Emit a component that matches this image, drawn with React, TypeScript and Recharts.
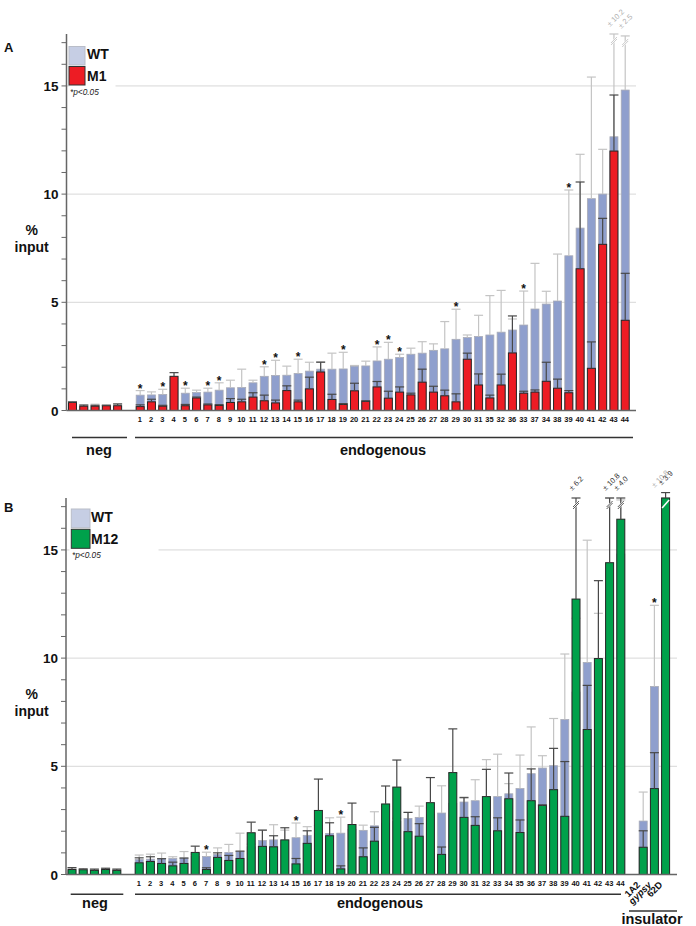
import { BarChart, Bar, XAxis, YAxis, CartesianGrid } from "recharts";

// y range shared by both panels (% input)
const TOP = 17.4;
const PLOT_H = 376.5;
const K = PLOT_H / TOP; // px per unit

const yTicks = [0, 1, 2, 3, 4, 5, 6, 7, 8, 9, 10, 11, 12, 13, 14, 15, 16, 17];

// =========================
// PANEL A : WT vs M1
// =========================
const negWtA = [0.3, 0.18, 0.2, 0.2, 0.22];
const negWtErrA = [0.38, 0.26, 0.29, 0.26, 0.32];
const negM1 = [0.37, 0.2, 0.2, 0.22, 0.22];
const negM1Err = [0.4, 0.25, 0.24, 0.24, 0.3];

const labelsA = [
  "1", "2", "3", "4", "5", "6", "7", "8", "9", "10", "11", "12", "13", "14", "15",
  "16", "17", "18", "19", "20", "21", "22", "23", "24", "25", "26", "27", "28", "29",
  "30", "31", "35", "32", "36", "33", "37", "34", "38", "39", "40", "41", "42", "43", "44"
];
const wtA = [
  0.71, 0.72, 0.74, 1.5, 0.8, 0.83, 0.85, 0.94, 1.05, 1.06,
  1.28, 1.58, 1.62, 1.63, 1.71, 1.82, 1.91, 1.91, 1.92, 2.05,
  2.06, 2.29, 2.37, 2.45, 2.6, 2.65, 2.78, 2.85, 3.29, 3.37,
  3.42, 3.49, 3.62, 3.72, 3.95, 4.69, 4.92, 5.06, 7.15, 8.43,
  9.79, 10.0, 12.65, 14.81
];
const wtErrA = [
  0.92, 0.86, 0.98, 1.55, 1.03, 0.94, 1.03, 1.28, 1.4, 1.91,
  1.4, 2.02, 2.32, 2.05, 2.37, 2.23, 2.26, 2.65, 2.69, 2.08,
  2.28, 2.94, 3.15, 2.6, 2.88, 3.18, 3.08, 4.11, 4.68, 3.49,
  4.4, 5.31, 5.55, 4.23, 5.52, 6.8, 5.51, 7.23, 10.19, 11.84,
  15.41, 12.07, 22.85, 17.31
];
const m1 = [
  0.18, 0.4, 0.2, 1.58, 0.22, 0.58, 0.26, 0.23, 0.37, 0.4,
  0.62, 0.45, 0.35, 0.92, 0.4, 1.0, 1.78, 0.51, 0.28, 0.91,
  0.42, 1.09, 0.57, 0.85, 0.72, 1.31, 0.85, 0.68, 0.4, 2.37,
  1.18, 0.58, 1.18, 2.66, 0.8, 0.85, 1.35, 1.03, 0.82, 6.55,
  1.95, 7.68, 11.99, 4.17
];
const m1Err = [
  0.26, 0.52, 0.24, 1.75, 0.28, 0.62, 0.3, 0.27, 0.55, 0.52,
  0.82, 0.71, 0.48, 1.14, 0.48, 1.54, 2.23, 0.75, 0.32, 1.26,
  0.45, 1.34, 0.89, 1.09, 0.8, 1.91, 1.12, 0.94, 0.77, 2.65,
  1.69, 0.71, 1.68, 4.37, 0.89, 0.95, 2.23, 1.45, 0.92, 10.56,
  3.17, 8.88, 14.58, 6.34
];
const starsA = ["1", "3", "5", "7", "8", "12", "13", "15", "19", "22", "23", "24", "29", "33", "39"];
const wtNotesA: Record<string, string> = { "43": "± 10.2", "44": "± 2.5" };
const mutNotesA: Record<string, string> = {};

// =========================
// PANEL B : WT vs M12
// =========================
const negWtB = [0.2, 0.2, 0.18, 0.2, 0.18];
const negWtErrB = [0.28, 0.24, 0.23, 0.27, 0.23];
const negM12 = [0.23, 0.22, 0.19, 0.23, 0.19];
const negM12Err = [0.32, 0.26, 0.25, 0.29, 0.25];

const labelsB = [
  "1", "2", "3", "4", "5", "6", "7", "8", "9", "10", "11", "12", "13", "14", "15",
  "16", "17", "18", "19", "20", "21", "22", "23", "24", "25", "26", "27", "28", "29",
  "30", "31", "32", "33", "34", "35", "36", "37", "38", "39", "40", "41", "42", "43", "44"
];
const wtB = [
  0.69, 0.71, 0.73, 0.74, 0.76, 0.83, 0.83, 0.93, 1.02, 1.06,
  1.28, 1.57, 1.6, 1.58, 1.7, 1.81, 1.91, 1.9, 1.91, 2.05,
  2.04, 2.25, 2.37, 2.45, 2.59, 2.64, 2.78, 2.84, 3.29, 3.35,
  3.41, 3.49, 3.6, 3.73, 3.97, 4.66, 4.92, 5.03, 7.16, 8.43,
  9.8, 9.95, 12.65, 14.81
];
const wtErrB = [
  0.9, 0.94, 0.99, 0.82, 1.06, 0.94, 1.03, 1.23, 1.39, 1.91,
  1.4, 2.05, 2.3, 2.05, 2.38, 2.21, 2.26, 2.62, 2.65, 2.08,
  2.28, 2.9, 3.15, 2.6, 2.87, 3.16, 3.08, 4.1, 4.68, 3.58,
  4.38, 5.31, 5.56, 4.2, 5.52, 6.82, 5.49, 7.21, 10.19, 11.84,
  15.45, 12.07, 22.85, 17.31
];
const m12 = [
  0.54, 0.6, 0.51, 0.4, 0.51, 1.02, 0.23, 0.79, 0.65, 0.74,
  1.93, 1.3, 1.28, 1.6, 0.49, 1.44, 2.96, 1.79, 0.26, 2.31,
  0.82, 1.54, 3.26, 4.04, 1.98, 1.77, 3.32, 0.93, 4.71, 2.64,
  2.27, 3.6, 2.02, 3.5, 1.94, 3.41, 3.19, 3.92, 2.69, 12.73,
  6.7, 9.98, 14.41, 16.42
];
const m12Err = [
  0.77, 0.82, 0.73, 0.57, 0.76, 1.31, 0.31, 1.0, 0.88, 1.08,
  2.42, 2.05, 1.79, 2.16, 0.74, 2.02, 4.41, 2.39, 0.4, 3.3,
  1.23, 2.18, 4.09, 5.29, 2.87, 2.35, 4.48, 1.27, 6.73, 3.55,
  2.67, 4.86, 2.62, 4.69, 2.52, 4.88, 3.22, 5.83, 5.22, 18.93,
  8.74, 13.58, 25.21, 20.42
];
const insLabels = ["1A2", "gypsy", "62D"];
const insWt = [2.47, 8.69, 15.0];
const insWtErr = [3.81, 12.44, 25.8];
const insM12 = [1.26, 3.97, 19.5];
const insM12Err = [2.02, 5.63, 23.4];
const starsB = ["7", "15", "19", "gypsy"];
const wtNotesB: Record<string, string> = { "62D": "± 10.8" };
const mutNotesB: Record<string, string> = { "40": "± 6.2", "43": "± 10.8", "44": "± 4.0", "62D": "± 3.9" };

// =========================
// COLORS
// =========================
const WT_FILL = "#8f9fcd";
const WT_EDGE = "#a9abb6";
const WT_KEY = "#c6cee4";
const WT_ERR = "#c4c4c4";
const RED = "#ed1c24";
const GREEN = "#00a14b";
const EDGE = "#262626";
const MUT_ERR = "#484848";
const GRID = "#d8d8d8";
const AXIS = "#666";
const FONT = "'Liberation Sans', Arial, sans-serif";

type Row = {
  label: string;
  wt?: number;
  wtErr?: number;
  mut?: number;
  mutErr?: number;
  sig?: boolean;
  wtNote?: string;
  mutNote?: string;
};

function rowsFrom(
  labels: string[], wt: number[], wtErr: number[], mut: number[], mutErr: number[],
  stars: string[], wtNotes: Record<string, string>, mutNotes: Record<string, string>
): Row[] {
  return labels.map((l, i) => ({
    label: l,
    wt: wt[i],
    wtErr: wtErr[i],
    mut: mut[i],
    mutErr: mutErr[i],
    sig: stars.includes(l),
    wtNote: wtNotes[l],
    mutNote: mutNotes[l]
  }));
}

const blankRow: Row = { label: "" };
const negLabels = ["", "", "", "", ""];

const rowsA: Row[] = [
  ...rowsFrom(negLabels, negWtA, negWtErrA, negM1, negM1Err, [], {}, {}),
  blankRow,
  ...rowsFrom(labelsA, wtA, wtErrA, m1, m1Err, starsA, wtNotesA, mutNotesA)
];

const rowsB: Row[] = [
  ...rowsFrom(negLabels, negWtB, negWtErrB, negM12, negM12Err, [], {}, {}),
  blankRow,
  ...rowsFrom(labelsB, wtB, wtErrB, m12, m12Err, starsB, wtNotesB, mutNotesB),
  blankRow,
  ...rowsFrom(insLabels, insWt, insWtErr, insM12, insM12Err, starsB, wtNotesB, mutNotesB)
];

// bar + one-sided error bar (+ break marks / star) drawn in one shape
function makeShape(kind: "wt" | "mut", fill: string, edge: string, errColor: string) {
  return (p: any) => {
    const r: Row = p.payload;
    const v = kind === "wt" ? r.wt : r.mut;
    if (v == null || !p.width) return <g />;
    const e = kind === "wt" ? r.wtErr : r.mutErr;
    const note = kind === "wt" ? r.wtNote : r.mutNote;
    const x = p.x;
    const w = p.width;
    const cx = x + w / 2;
    const top = p.y;
    const base = p.y + p.height;
    const clipped = v > TOP;
    let capY: number | null = e != null ? base - Math.min(e, TOP) * K : null;
    if (clipped) capY = base - (TOP + 0.25) * K;

    let starY = 0;
    if (kind === "mut" && r.sig) {
      const hi = Math.max(r.wt ?? 0, r.wtErr ?? 0, r.mut ?? 0, r.mutErr ?? 0);
      starY = base - Math.min(hi, TOP) * K;
    }
    const lx = kind === "wt" && r.mutNote ? cx - 11 : cx - 4;
    const ly = kind === "wt" && r.mutNote ? (capY ?? 0) - 10 : (capY ?? 0) - 7;

    return (
      <g>
        <rect x={x} y={top} width={w} height={p.height} fill={fill} stroke={edge} strokeWidth={kind === "wt" ? 0.8 : 1} />
        {capY != null && (
          <g>
            <line x1={cx} x2={cx} y1={top} y2={capY} stroke={errColor} strokeWidth={1.2} />
            <line x1={cx - 4.5} x2={cx + 4.5} y1={capY} y2={capY} stroke={errColor} strokeWidth={1.2} />
          </g>
        )}
        {note && capY != null && !clipped && (
          <g>
            <line x1={cx - 3} y1={capY + 10} x2={cx + 3} y2={capY + 4} stroke="#fff" strokeWidth={3} />
            <line x1={cx - 3} y1={capY + 9} x2={cx + 3} y2={capY + 3} stroke={errColor} strokeWidth={0.9} />
            <line x1={cx - 3} y1={capY + 11} x2={cx + 3} y2={capY + 5} stroke={errColor} strokeWidth={0.9} />
          </g>
        )}
        {clipped && (
          <line x1={x + 0.5} y1={top + 10} x2={x + w - 0.5} y2={top + 2} stroke="#fff" strokeWidth={1.6} />
        )}
        {note && capY != null && (
          <text
            x={lx}
            y={ly}
            transform={`rotate(-45 ${lx} ${ly})`}
            fontSize={7.5}
            fontFamily={FONT}
            fill={kind === "wt" ? "#b0b0b0" : "#333"}
          >
            {note}
          </text>
        )}
        {kind === "mut" && r.sig && (
          <text x={cx} y={starY + 2} textAnchor="middle" fontSize={12} fontWeight="bold" fontFamily={FONT} fill="#111">
            *
          </text>
        )}
      </g>
    );
  };
}

const XTick = (p: any) => {
  const v = p.payload.value;
  if (!v) return <g />;
  if (insLabels.includes(v)) {
    const ax = p.x - 2;
    const ay = p.y + 9;
    return (
      <text
        x={ax}
        y={ay}
        transform={`rotate(-45 ${ax} ${ay})`}
        textAnchor="end"
        fontSize={9.5}
        fontWeight="bold"
        fontStyle={v === "gypsy" ? "italic" : "normal"}
        fontFamily={FONT}
        fill="#111"
      >
        {v}
      </text>
    );
  }
  return (
    <text x={p.x} y={p.y} dy={9.5} textAnchor="middle" fontSize={7.5} fontWeight="bold" fontFamily={FONT} fill="#111">
      {v}
    </text>
  );
};

const YTick = (p: any) =>
  p.payload.value % 5 === 0 ? (
    <text x={p.x} y={p.y} dy={5} textAnchor="end" fontSize={13.5} fontWeight="bold" fontFamily={FONT} fill="#111">
      {p.payload.value}
    </text>
  ) : (
    <g />
  );

function Panel({ rows, color, yw, padRight, marginRight }: any) {
  return (
    <BarChart
      width={696}
      height={460}
      data={rows}
      margin={{ top: 34, right: marginRight, bottom: 0, left: 0 }}
      barSize={8}
      barGap={-8}
    >
      <CartesianGrid vertical={false} horizontalValues={[5, 10, 15]} stroke={GRID} />
      <XAxis
        dataKey="label"
        interval={0}
        tick={XTick}
        tickLine={false}
        tickSize={0}
        tickMargin={2}
        height={49.5}
        axisLine={{ stroke: AXIS, strokeWidth: 1.5 }}
        padding={{ left: 0, right: padRight }}
      />
      <YAxis
        type="number"
        domain={[0, TOP]}
        ticks={yTicks}
        interval={0}
        width={yw}
        tickSize={5}
        tickMargin={3}
        tick={YTick}
        tickLine={{ stroke: AXIS }}
        axisLine={{ stroke: AXIS, strokeWidth: 1.5 }}
      />
      <Bar
        dataKey={(r: Row) => (r.wt == null ? null : Math.min(r.wt, TOP))}
        shape={makeShape("wt", WT_FILL, WT_EDGE, WT_ERR)}
        isAnimationActive={false}
      />
      <Bar
        dataKey={(r: Row) => (r.mut == null ? null : Math.min(r.mut, TOP))}
        shape={makeShape("mut", color, EDGE, MUT_ERR)}
        isAnimationActive={false}
      />
    </BarChart>
  );
}

const bold = { fontFamily: FONT, fontWeight: "bold" as const, fill: "#111" };

export default function App() {
  return (
    <div style={{ position: "absolute", left: 0, top: 0, width: 696, height: 926, background: "#fff" }}>
      <div style={{ position: "absolute", left: 0, top: 0 }}>
        <Panel rows={rowsA} color={RED} yw={66.5} padRight={5.5} marginRight={60} />
      </div>
      <div style={{ position: "absolute", left: 0, top: 463.5 }}>
        <Panel rows={rowsB} color={GREEN} yw={66} padRight={6.2} marginRight={19} />
      </div>

      <svg width={696} height={926} style={{ position: "absolute", left: 0, top: 0, pointerEvents: "none" }}>
        {/* ---- panel A annotations ---- */}
        <text x={4} y={52} fontSize={13} {...bold}>A</text>
        <rect x={69.5} y={80} width={46} height={16} fill="#fff" />
        <rect x={69} y={46.5} width={16} height={18.5} fill={WT_KEY} stroke="#b9bdc8" strokeWidth={1} />
        <rect x={69} y={66.5} width={16} height={18.5} fill={RED} stroke="#333" strokeWidth={1} />
        <text x={87} y={58.5} fontSize={14} {...bold}>WT</text>
        <text x={87} y={81} fontSize={14} {...bold}>M1</text>
        <text x={70} y={94.5} fontSize={8.3} fontStyle="italic" fontFamily={FONT} fill="#222">*p&lt;0.05</text>
        <text x={31.7} y={235} fontSize={14} textAnchor="middle" {...bold}>%</text>
        <text x={31.7} y={251.5} fontSize={14} textAnchor="middle" {...bold}>input</text>
        <line x1={72} x2={127} y1={437.5} y2={437.5} stroke="#333" strokeWidth={1.5} />
        <line x1={135} x2={633} y1={437.5} y2={437.5} stroke="#333" strokeWidth={1.5} />
        <text x={99} y={455} fontSize={14.5} textAnchor="middle" {...bold}>neg</text>
        <text x={383} y={455} fontSize={14.5} textAnchor="middle" {...bold}>endogenous</text>

        {/* ---- panel B annotations ---- */}
        <text x={4} y={512} fontSize={13} {...bold}>B</text>
        <rect x={69.5} y={546} width={89} height={12} fill="#fff" />
        <rect x={71.3} y={509} width={18.7} height={18.7} fill={WT_KEY} stroke="#b9bdc8" strokeWidth={1} />
        <rect x={71.3} y={529.3} width={18.7} height={19} fill={GREEN} stroke="#333" strokeWidth={1} />
        <text x={91} y={522} fontSize={14} {...bold}>WT</text>
        <text x={91} y={543.5} fontSize={14} {...bold}>M12</text>
        <text x={72} y={558} fontSize={8.3} fontStyle="italic" fontFamily={FONT} fill="#222">*p&lt;0.05</text>
        <text x={31.7} y={699} fontSize={14} textAnchor="middle" {...bold}>%</text>
        <text x={31.7} y={715.5} fontSize={14} textAnchor="middle" {...bold}>input</text>
        <line x1={70.7} x2={123.3} y1={894.3} y2={894.3} stroke="#333" strokeWidth={1.5} />
        <line x1={135} x2={621} y1={894.3} y2={894.3} stroke="#333" strokeWidth={1.5} />
        <line x1={629} x2={677} y1={911} y2={911} stroke="#333" strokeWidth={1.5} />
        <text x={95} y={907.5} fontSize={14.5} textAnchor="middle" {...bold}>neg</text>
        <text x={380} y={907.5} fontSize={14.5} textAnchor="middle" {...bold}>endogenous</text>
        <text x={652} y={924} fontSize={14.5} textAnchor="middle" {...bold}>insulator</text>
      </svg>
    </div>
  );
}
